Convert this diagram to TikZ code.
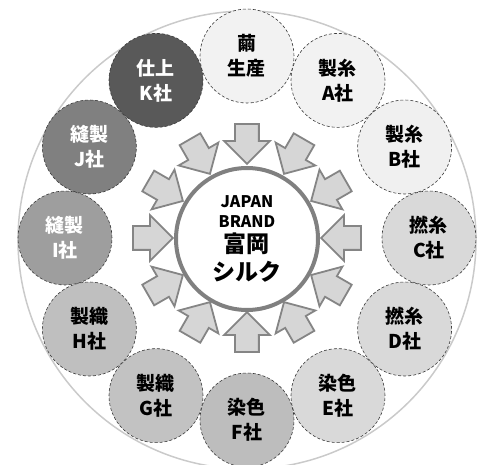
\documentclass[tikz,border=0pt]{standalone}
\usepackage{fontspec}
\newfontfamily\jpfont{Noto Sans CJK JP}[BoldFont={Noto Sans CJK JP Black}]
\usepackage{tikz}
\usetikzlibrary{shapes,arrows.meta,positioning,calc}
\definecolor{ringgray}{HTML}{CACACA}
\definecolor{arrowline}{HTML}{858585}
\definecolor{arrowfill}{HTML}{D6D6D6}
\definecolor{coreline}{HTML}{808080}
\definecolor{firmline}{HTML}{3A3A3A}
\newcommand{\smalltag}{\fontsize{16}{20}\selectfont}
\newcommand{\bigtag}{\fontsize{23}{25}\selectfont}

\begin{document}
\begin{tikzpicture}[x=1pt,y=1pt,
        firm/.style={circle,draw=firmline,densely dashed,line width=0.6pt,minimum size=94pt,inner sep=0pt,align=center,
            font=\jpfont\bfseries\fontsize{19}{25}\selectfont},
        inarrow/.style={single arrow,draw=arrowline,fill=arrowfill,line width=1.8pt,minimum height=40pt,minimum width=44pt,
            single arrow head extend=11pt,inner xsep=0pt,inner ysep=11pt},
        core/.style={circle,draw=coreline,line width=4pt,minimum size=142pt,inner sep=0pt,align=center,
            font=\jpfont\bfseries\fontsize{16}{20}\selectfont}]
                \useasboundingbox (-247,-227) rectangle (230,238);
                \draw [ringgray,line width=1.5pt] (0,-2) circle (229);

                \foreach \i in {0,...,11}
                {
                    \node [inarrow,rotate=270-30*\i] (arr\i) at ({90-30*\i}:100) {};
                }

                \node [core] (brand) at (0,-1) {\smalltag JAPAN\\\smalltag BRAND\\[5pt]\bigtag 富岡\\[5pt]\bigtag シルク};

                \foreach \i/\tone/\ink/\lbl in {0/5/black/{繭\\生産},1/5/black/{製糸\\A社},2/6/black/{製糸\\B社},
                    3/15/black/{撚糸\\C社},4/15/black/{撚糸\\D社},5/15/black/{染色\\E社},6/26/black/{染色\\F社},
                    7/24/black/{製織\\G社},8/25/black/{製織\\H社},9/38/white/{縫製\\I社},10/50/white/{縫製\\J社},
                    11/65/white/{仕上\\K社}}
                {
                    \node [firm,fill=black!\tone,text=\ink] (firm\i) at ({90-30*\i}:182) {\lbl};
                }
                
                %\node at (0,0) {};
            \end{tikzpicture}
\end{document}
